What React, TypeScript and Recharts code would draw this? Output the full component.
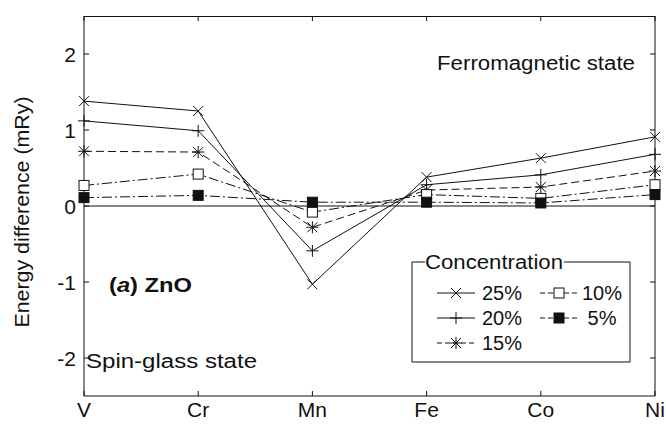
import React from "react";
import { LineChart, Line, XAxis, YAxis, ReferenceLine } from "recharts";

const ELEMENTS = ["V", "Cr", "Mn", "Fe", "Co", "Ni"];
const C25 = [1.38, 1.25, -1.03, 0.38, 0.63, 0.91];
const C20 = [1.12, 0.99, -0.59, 0.28, 0.41, 0.68];
const C15 = [0.72, 0.71, -0.28, 0.21, 0.25, 0.46];
const C10 = [0.27, 0.42, -0.08, 0.15, 0.1, 0.28];
const C5 = [0.11, 0.14, 0.05, 0.05, 0.04, 0.15];
const Y_TICKS = [-2, -1, 0, 1, 2];
const Y_DOMAIN = [-2.5, 2.5];

const data = ELEMENTS.map((el, i) => ({
  el,
  c25: C25[i],
  c20: C20[i],
  c15: C15[i],
  c10: C10[i],
  c5: C5[i],
}));

// chart box layout
const W = 666;
const H = 424;
const TOP = 16;
const LEFT = 84;
const RIGHT_GAP = 10;
const RIGHT_AXIS_W = 1;
const PLOT_RIGHT = W - RIGHT_GAP - RIGHT_AXIS_W;

const FONT = "'Liberation Sans', Arial, Helvetica, sans-serif";
const INK = "#111";

type MarkKind = "x" | "plus" | "star" | "open" | "filled";

function Mark({ cx, cy, kind }: { cx: number; cy: number; kind: MarkKind }) {
  const r = 5;
  const cross = (
    <>
      <line x1={cx - r} y1={cy - r} x2={cx + r} y2={cy + r} stroke={INK} />
      <line x1={cx - r} y1={cy + r} x2={cx + r} y2={cy - r} stroke={INK} />
    </>
  );
  const plus = (
    <>
      <line x1={cx - r - 1} y1={cy} x2={cx + r + 1} y2={cy} stroke={INK} />
      <line x1={cx} y1={cy - r - 1} x2={cx} y2={cy + r + 1} stroke={INK} />
    </>
  );
  if (kind === "x") return <g>{cross}</g>;
  if (kind === "plus") return <g>{plus}</g>;
  if (kind === "star")
    return (
      <g>
        {cross}
        {plus}
      </g>
    );
  return (
    <rect
      x={cx - r}
      y={cy - r}
      width={2 * r}
      height={2 * r}
      fill={kind === "filled" ? INK : "#fff"}
      stroke={INK}
    />
  );
}

const dotOf = (kind: MarkKind) => (props: any) =>
  <Mark key={`${kind}-${props.index}`} cx={props.cx} cy={props.cy} kind={kind} />;

const SERIES: { key: string; label: string; kind: MarkKind; dash?: string }[] = [
  { key: "c25", label: "25%", kind: "x" },
  { key: "c20", label: "20%", kind: "plus" },
  { key: "c15", label: "15%", kind: "star", dash: "8 4" },
  { key: "c10", label: "10%", kind: "open", dash: "10 3 2 3" },
  { key: "c5", label: " 5%", kind: "filled", dash: "10 3 2 3" },
];

const LeftTick = ({ x, y, payload }: any) => (
  <g>
    <line x1={x} x2={x + 5} y1={y} y2={y} stroke={INK} />
    <text x={x - 8} y={y} dy="0.36em" textAnchor="end" fontSize={21} fill={INK} fontFamily={FONT}>
      {payload.value}
    </text>
  </g>
);

const RightTick = ({ x, y }: any) => <line x1={x} x2={x - 5} y1={y} y2={y} stroke={INK} />;

const BottomTick = ({ x, y, payload }: any) => (
  <g>
    <line x1={x} x2={x} y1={y} y2={y - 5} stroke={INK} />
    <text x={x} y={y + 21} textAnchor="middle" fontSize={21} fill={INK} fontFamily={FONT}>
      {payload.value}
    </text>
  </g>
);

// legend entry: short line sample with the marker in the middle, then the label
function LegendItem({ x, y, s, textX }: { x: number; y: number; s: (typeof SERIES)[number]; textX: number }) {
  return (
    <g>
      <line x1={x} x2={x + 38} y1={y} y2={y} stroke={INK} strokeDasharray={s.dash ? "5 3" : undefined} />
      <Mark cx={x + 19} cy={y} kind={s.kind} />
      <text x={textX} y={y + 7} fontSize={20} fill={INK} fontFamily={FONT} xmlSpace="preserve">
        {s.label}
      </text>
    </g>
  );
}

export default function App() {
  const step = (PLOT_RIGHT - LEFT) / (ELEMENTS.length - 1);
  return (
    <div style={{ position: "absolute", left: 0, top: 0, width: W, height: H, background: "#fff" }}>
      <LineChart width={W} height={H} data={data} margin={{ top: TOP, right: RIGHT_GAP, left: 0, bottom: 0 }}>
        <XAxis dataKey="el" height={28} stroke={INK} tickLine={false} tickSize={0} tickMargin={0} tick={<BottomTick />} interval={0} />
        <YAxis
          type="number"
          domain={Y_DOMAIN}
          ticks={Y_TICKS}
          width={LEFT}
          stroke={INK}
          tickLine={false}
          tickSize={0}
          tickMargin={0}
          tick={<LeftTick />}
          allowDataOverflow
        />
        <YAxis
          yAxisId="right"
          orientation="right"
          type="number"
          domain={Y_DOMAIN}
          ticks={Y_TICKS}
          width={RIGHT_AXIS_W}
          stroke={INK}
          tickLine={false}
          tickSize={0}
          tickMargin={0}
          tick={<RightTick />}
          allowDataOverflow
        />
        <ReferenceLine y={0} stroke={INK} strokeWidth={1} />
        {SERIES.map((s) => (
          <Line
            key={s.key}
            type="linear"
            dataKey={s.key}
            stroke={INK}
            strokeWidth={1}
            strokeDasharray={s.dash}
            dot={dotOf(s.kind)}
            activeDot={false}
            isAnimationActive={false}
          />
        ))}
      </LineChart>
      <svg width={W} height={H} style={{ position: "absolute", left: 0, top: 0, pointerEvents: "none" }}>
        {/* top edge of the box with inward ticks */}
        <line x1={LEFT} x2={PLOT_RIGHT} y1={TOP + 0.5} y2={TOP + 0.5} stroke={INK} />
        {ELEMENTS.map((el, i) => (
          <line key={el} x1={LEFT + i * step} x2={LEFT + i * step} y1={TOP} y2={TOP + 5} stroke={INK} />
        ))}
        <text
          transform="translate(29,212) rotate(-90)"
          textAnchor="middle"
          fontSize={20}
          fill={INK}
          fontFamily={FONT}
          textLength={231}
          lengthAdjust="spacingAndGlyphs"
        >
          Energy difference (mRy)
        </text>
        <text x={437} y={70} fontSize={20} fill={INK} fontFamily={FONT} textLength={198} lengthAdjust="spacingAndGlyphs">
          Ferromagnetic state
        </text>
        <text x={86} y={368} fontSize={20} fill={INK} fontFamily={FONT} textLength={171} lengthAdjust="spacingAndGlyphs">
          Spin-glass state
        </text>
        <text x={109} y={292} fontSize={20} fontWeight="bold" fill={INK} fontFamily={FONT} textLength={83} lengthAdjust="spacingAndGlyphs">
          (<tspan fontStyle="italic">a</tspan>) ZnO
        </text>
        <path d="M425 262 H412 V362 H630 V262 H564" fill="none" stroke={INK} />
        <text x={425} y={269} fontSize={20} fill={INK} fontFamily={FONT} textLength={138} lengthAdjust="spacingAndGlyphs">
          Concentration
        </text>
        <LegendItem x={437} y={293} s={SERIES[0]} textX={482} />
        <LegendItem x={437} y={318} s={SERIES[1]} textX={482} />
        <LegendItem x={437} y={343} s={SERIES[2]} textX={482} />
        <LegendItem x={540} y={293} s={SERIES[3]} textX={582} />
        <LegendItem x={540} y={318} s={SERIES[4]} textX={582} />
      </svg>
    </div>
  );
}
